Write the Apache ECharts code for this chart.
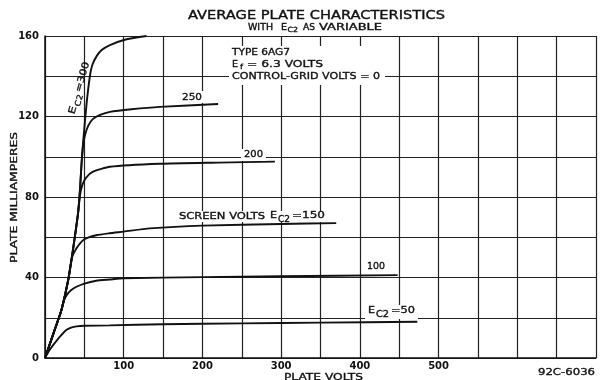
<!DOCTYPE html>
<html>
<head>
<meta charset="utf-8">
<script src="https://cdn.jsdelivr.net/npm/echarts@6/dist/echarts.min.js"></script>
<style>
html,body{margin:0;padding:0;background:#fff;}
#c{width:601px;height:380px;}
</style>
</head>
<body>
<div id="c"></div>
<script>
// Plate volts (x) / plate milliamperes (y) for each screen voltage Ec2
var ec2_50 = [[0,0],[5,3.5],[10.6,6.5],[19,10.6],[27.5,14],[34,15.2],[40,15.7],[50,16],[82,16.2],[150,16.8],[250,17.2],[350,17.6],[473,18]];
var ec2_100 = [[0,0],[15,17],[21,24],[24.5,29],[28,31.5],[33,33.7],[40,35.4],[50,37],[65,38.4],[82,39],[100,39.6],[200,40.2],[300,40.6],[448,41.2]];
var ec2_150 = [[0,0],[15,17],[21,24],[29.6,39],[34,49.5],[40,54.5],[50,59],[65,61],[82,62],[100,62.8],[133,64.4],[200,65.8],[300,66.6],[370,67]];
var ec2_200 = [[0,0],[15,17],[21,24],[29.6,39],[36,55],[42,72],[44.5,81],[47.5,86],[52,89.5],[61,92.6],[82.5,95],[146,96.5],[220,97.1],[292,97.6]];
var ec2_250 = [[0,0],[15,17],[21,24],[29.6,39],[36,55],[42,72],[44.4,83.5],[46.5,97],[48.5,106],[51,111],[55,115.5],[61,118.8],[70,120.8],[82.5,122.3],[110,123.6],[146,124.8],[220,126.2]];
var ec2_300 = [[0,0],[15,17],[21,24],[29.6,39],[36,55],[42,72],[44.4,83.5],[46.5,97],[48.6,108],[52.9,126.6],[57,140],[60,145.5],[65.6,150],[72,153],[82.5,155.5],[103.7,158.4],[129,160]];
var seriesNames = ['50','100','150','200','250','300'];
var seriesData = [ec2_50, ec2_100, ec2_150, ec2_200, ec2_250, ec2_300];
var xTickLabels = [100,200,300,400,500];
var yTickLabels = [0,40,80,120,160];

var FONT = 'DejaVu Sans';
var mctx = document.createElement('canvas').getContext('2d');
function fnt(size){ return size + 'px "' + FONT + '"'; }
function measure(s, size){ mctx.font = fnt(size); return mctx.measureText(s).width; }
// text placed left-aligned from x0, stretched to end at x1
function fit(s, size, x0, x1, y) {
  var w = measure(s, size);
  return {type:'text', x:x0, y:y, z:100, scaleX:(x1 - x0) / w,
    style:{text:s, font:fnt(size), fill:'#111', textAlign:'left', textVerticalAlign:'middle', stroke:'#111', lineWidth:0.35}};
}
function whiteRect(x, y, w, h) {
  return {type:'rect', z:99, shape:{x:x, y:y, width:w, height:h}, style:{fill:'#fff'}};
}

var chart = echarts.init(document.getElementById('c'), null, {renderer:'canvas'});
var series = seriesData.map(function(d, i){
  return {name:seriesNames[i], type:'line', data:d, showSymbol:false, smooth:0.2,
    lineStyle:{color:'#111', width:1.9}, z:5, silent:true};
});

var g = [];
g.push(fit('AVERAGE PLATE CHARACTERISTICS', 11.5, 188, 445, 16));
g.push(fit('WITH', 8.5, 248, 273, 28));
g.push(fit('E', 8.5, 281, 287, 28));
g.push(fit('C2', 7, 287.5, 298, 30.5));
g.push(fit('AS', 8.5, 303, 315, 28));
g.push(fit('VARIABLE', 8.5, 319, 382, 28));
// annotation box
g.push(whiteRect(229, 46, 156, 39));
g.push(fit('TYPE 6AG7', 9.5, 232, 290, 53));
g.push(fit('E', 9.5, 232, 238, 65));
g.push(fit('f', 7, 240, 243, 67));
g.push(fit('= 6.3 VOLTS', 9.5, 247, 323, 65));
g.push(fit('CONTROL-GRID VOLTS = 0', 9.5, 232, 380, 77));
// curve labels
g.push(whiteRect(180, 91, 25, 12));
g.push(fit('250', 9.5, 182, 202, 98));
g.push(whiteRect(241, 149, 25, 12));
g.push(fit('200', 9.5, 244, 263, 155));
g.push(whiteRect(176, 211, 152, 11));
g.push(fit('SCREEN VOLTS', 9.5, 179, 265, 217));
g.push(fit('E', 9.5, 270, 277, 216));
g.push(fit('C2', 8, 278, 290, 219.5));
g.push(fit('=150', 9.5, 292, 325, 216));
g.push(whiteRect(365, 261, 23, 11));
g.push(fit('100', 9.5, 367, 385, 267));
g.push(whiteRect(365, 305, 53, 14));
g.push(fit('E', 9.5, 368, 375, 311));
g.push(fit('C2', 8, 376, 389, 315));
g.push(fit('=50', 9.5, 391, 415, 311));
// rotated Ec2=300 along the steep curve
var rotLabel = [fit('E', 9.5, 0, 8, 0), fit('C2', 8, 9, 21, 3.5), fit('=300', 9.5, 23, 54, 0)];
g.push({type:'group', x:72, y:114, rotation:1.29, z:100, children:rotLabel});
g.push(fit('PLATE VOLTS', 9.5, 284, 363, 378));
g.push(fit('92C-6036', 9.5, 538, 595, 373));
var yName = fit('PLATE MILLIAMPERES', 9.5, 0, 131, 0);
g.push({type:'group', x:15, y:263, rotation:Math.PI/2, z:100, children:[yName]});

chart.setOption({
  backgroundColor:'#fff',
  animation:false,
  grid:{left:45, right:5, top:36, bottom:22},
  xAxis:{type:'value', min:0, max:700, interval:50,
    axisLine:{show:true, lineStyle:{color:'#111', width:1.5}},
    axisTick:{show:false},
    axisLabel:{margin:3, color:'#111', fontFamily:FONT, fontWeight:'bold', fontSize:10,
      formatter:function(v){ return xTickLabels.indexOf(v) >= 0 ? String(v) : ''; }},
    splitLine:{show:true, lineStyle:{color:'#222', width:1.2}}
  },
  yAxis:{type:'value', min:0, max:160, interval:20,
    axisLine:{show:true, lineStyle:{color:'#111', width:1.5}},
    axisTick:{show:false},
    axisLabel:{margin:6, color:'#111', fontFamily:FONT, fontWeight:'bold', fontSize:10,
      formatter:function(v){ return yTickLabels.indexOf(v) >= 0 ? String(v) : ''; }},
    splitLine:{show:true, lineStyle:{color:'#222', width:1.2}}
  },
  series:series,
  graphic:g
});
</script>
</body>
</html>
